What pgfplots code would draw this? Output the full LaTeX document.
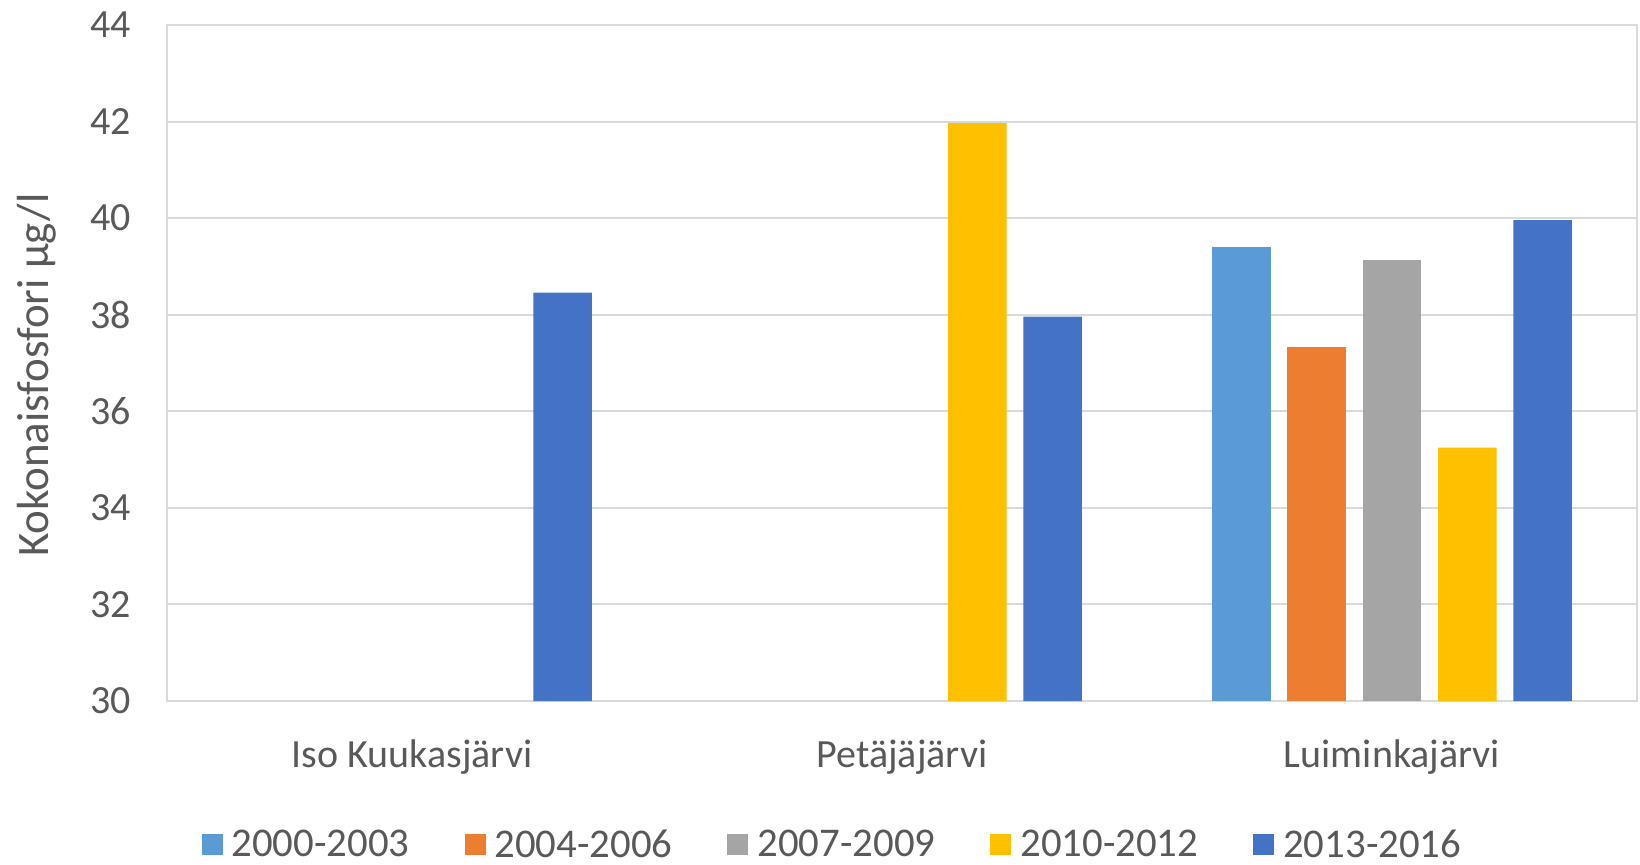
\documentclass[border=0pt]{standalone}
\usepackage{pgfplots}
\pgfplotsset{compat=1.18}
\usepackage{fontspec}
\setmainfont{Carlito}
\definecolor{c1}{HTML}{5B9BD5}
\definecolor{c2}{HTML}{ED7D31}
\definecolor{c3}{HTML}{A5A5A5}
\definecolor{c4}{HTML}{FFC000}
\definecolor{c5}{HTML}{4472C4}
\definecolor{txt}{HTML}{595959}
\definecolor{grid}{HTML}{D9D9D9}
\begin{document}
\begin{tikzpicture}
\path[use as bounding box] (0,0) rectangle (820pt,432pt);
\begin{axis}[
  at={(83.5pt,81.5pt)}, anchor=south west,
  scale only axis, width=735pt, height=338pt,
  ybar=8.35pt, bar width=29.3pt,
  xmin=-0.5, xmax=2.5, ymin=30, ymax=44,
  xtick={0,1,2}, xticklabels={Iso Kuukasjärvi,Petäjäjärvi,Luiminkajärvi},
  ytick={30,32,...,44},
  major tick length=0pt,
  ymajorgrids, grid style={draw=grid, line width=1pt},
  axis line style={draw=grid, line width=1pt},
  font=\fontsize{20}{24}\selectfont\color{txt},
  /pgf/number format/assume math mode=true,
  yticklabel style={anchor=east, inner sep=0pt, xshift=-18pt},
  xticklabel style={anchor=base, inner sep=0pt, yshift=-33pt},
  ylabel={Kokonaisfosfori µg/l},
  ylabel style={at={(axis description cs:-0.0884,0.482)}, anchor=center, rotate=0,
    font=\fontsize{22.5}{26}\selectfont\color{txt}},
  legend columns=5,
  legend style={at={(0.452,-0.213)}, anchor=center, draw=none, fill=none,
    font=\fontsize{20.4}{24}\selectfont\color{txt},
    nodes={inner sep=0pt},
    /tikz/every odd column/.append style={column sep=4.5pt},
    /tikz/every even column/.append style={column sep=27.5pt}},
  legend image code/.code={\fill[#1] (0pt,-5.25pt) rectangle (10.5pt,5.25pt);},
]
\addplot[fill=c1, draw=none] coordinates {(2,39.41)};
\addplot[fill=c2, draw=none] coordinates {(2,37.34)};
\addplot[fill=c3, draw=none] coordinates {(2,39.14)};
\addplot[fill=c4, draw=none] coordinates {(1,41.97) (2,35.25)};
\addplot[fill=c5, draw=none] coordinates {(0,38.46) (1,37.96) (2,39.96)};
\legend{2000-2003,2004-2006,2007-2009,2010-2012,2013-2016}
\end{axis}
\end{tikzpicture}
\end{document}
